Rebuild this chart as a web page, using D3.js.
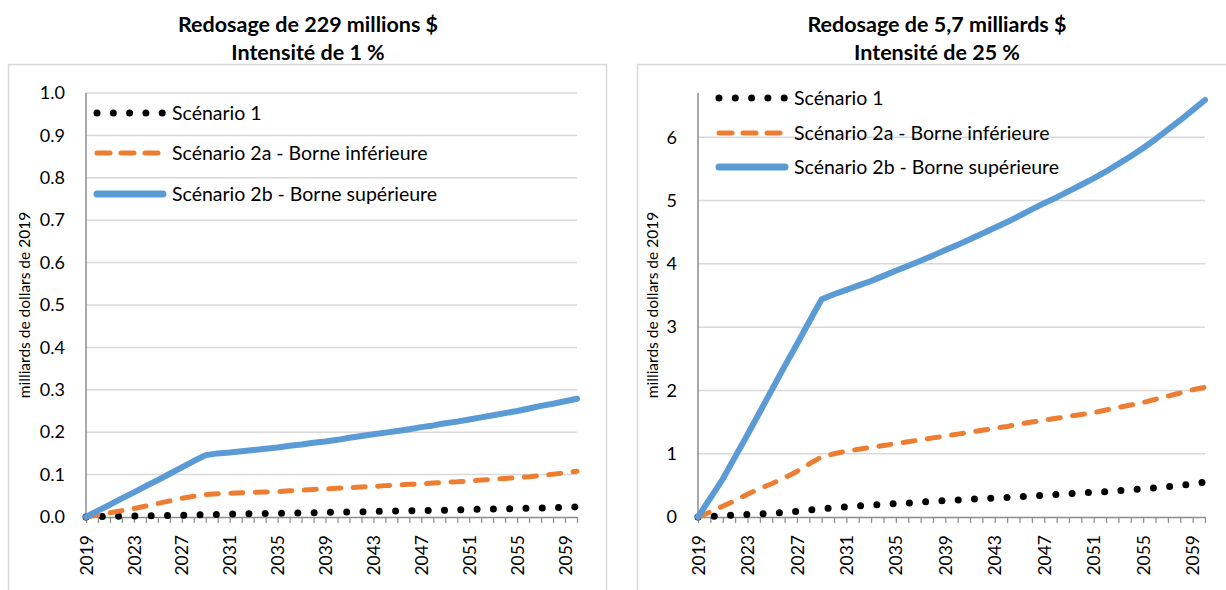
<!DOCTYPE html>
<html>
<head>
<meta charset="utf-8">
<script src="https://cdn.jsdelivr.net/npm/d3@7/dist/d3.min.js"></script>
<style>
  body { margin: 0; background: #fff; }
  text { font-family: Lato, "Open Sans", sans-serif; fill: #000; }
</style>
</head>
<body>
<div id="chart"></div>
<script>
// data (milliards de dollars de 2019)
var years = [2019, 2020, 2021, 2022, 2023, 2024, 2025, 2026, 2027, 2028,
  2029, 2030, 2031, 2032, 2033, 2034, 2035, 2036, 2037, 2038,
  2039, 2040, 2041, 2042, 2043, 2044, 2045, 2046, 2047, 2048,
  2049, 2050, 2051, 2052, 2053, 2054, 2055, 2056, 2057, 2058,
  2059, 2060];
var labelYears = [2019, 2023, 2027, 2031, 2035, 2039, 2043, 2047, 2051, 2055, 2059];
var seriesNames = ["Scénario 1", "Scénario 2a - Borne inférieure", "Scénario 2b - Borne supérieure"];

// left chart: 229 millions $, 1 %
var scen1Left = [0, 0.001, 0.001, 0.002, 0.002, 0.003, 0.003, 0.004, 0.004, 0.005,
  0.006, 0.006, 0.007, 0.007, 0.008, 0.008, 0.009, 0.009, 0.010, 0.010,
  0.011, 0.011, 0.012, 0.012, 0.013, 0.014, 0.014, 0.015, 0.015, 0.016,
  0.016, 0.017, 0.018, 0.018, 0.019, 0.019, 0.020, 0.021, 0.021, 0.022,
  0.023, 0.024];
var scen2aLeft = [0, 0.005, 0.010, 0.015, 0.020, 0.026, 0.032, 0.038, 0.044, 0.049,
  0.053, 0.055, 0.056, 0.057, 0.058, 0.059, 0.060, 0.062, 0.063, 0.065,
  0.066, 0.068, 0.069, 0.071, 0.072, 0.074, 0.075, 0.077, 0.078, 0.080,
  0.082, 0.083, 0.085, 0.087, 0.089, 0.091, 0.093, 0.095, 0.098, 0.101,
  0.104, 0.108];
var scen2bLeft = [0, 0.015, 0.029, 0.044, 0.058, 0.073, 0.087, 0.102, 0.117, 0.132,
  0.146, 0.150, 0.152, 0.155, 0.158, 0.161, 0.164, 0.168, 0.171, 0.175,
  0.178, 0.182, 0.187, 0.191, 0.195, 0.199, 0.203, 0.207, 0.212, 0.216,
  0.221, 0.225, 0.230, 0.235, 0.240, 0.245, 0.250, 0.256, 0.262, 0.267,
  0.273, 0.279];
var yTicksLeft = [0, 0.1, 0.2, 0.3, 0.4, 0.5, 0.6, 0.7, 0.8, 0.9, 1.0];

// right chart: 5,7 milliards $, 25 %
var scen1Right = [0, 0.01, 0.02, 0.03, 0.04, 0.05, 0.06, 0.07, 0.09, 0.11,
  0.13, 0.145, 0.16, 0.175, 0.19, 0.20, 0.21, 0.22, 0.235, 0.245,
  0.26, 0.27, 0.28, 0.29, 0.30, 0.31, 0.32, 0.335, 0.345, 0.355,
  0.37, 0.38, 0.39, 0.40, 0.415, 0.43, 0.45, 0.46, 0.48, 0.50,
  0.525, 0.55];
var scen2aRight = [0, 0.08, 0.17, 0.26, 0.36, 0.45, 0.53, 0.62, 0.72, 0.84,
  0.95, 1.00, 1.04, 1.07, 1.10, 1.13, 1.16, 1.19, 1.22, 1.25,
  1.28, 1.31, 1.34, 1.37, 1.40, 1.43, 1.47, 1.50, 1.53, 1.56,
  1.59, 1.62, 1.65, 1.69, 1.73, 1.77, 1.81, 1.86, 1.91, 1.96,
  2.01, 2.05];
var scen2bRight = [0, 0.30, 0.60, 0.95, 1.30, 1.66, 2.02, 2.38, 2.73, 3.09,
  3.44, 3.52, 3.59, 3.66, 3.73, 3.81, 3.89, 3.97, 4.05, 4.13,
  4.22, 4.30, 4.39, 4.48, 4.57, 4.66, 4.76, 4.86, 4.96, 5.05,
  5.15, 5.25, 5.35, 5.46, 5.58, 5.70, 5.83, 5.97, 6.12, 6.27,
  6.43, 6.59];
var yTicksRight = [0, 1, 2, 3, 4, 5, 6];

var svgWidth = 1226;
var svgHeight = 590;

var svg = d3.select("#chart")
  .append("svg")
  .attr("width", svgWidth)
  .attr("height", svgHeight);

// line styles for the three series
var styles = [
  { color: "#000000", width: 7, dash: "0 16.3", cap: "round" },
  { color: "#ED7D31", width: 5, dash: "12 12.5", cap: "round" },
  { color: "#5B9BD5", width: 6, dash: null, cap: "round" }
];

function drawPanel(p) {
  var g = svg.append("g");

  // outer frame
  g.append("rect")
    .attr("x", p.boxX + 0.5).attr("y", 64.5)
    .attr("width", p.boxW).attr("height", 560)
    .attr("fill", "none")
    .attr("stroke", "#d9d9d9")
    .attr("stroke-width", 1.5);

  // titles
  g.append("text")
    .attr("x", p.titleX).attr("y", 32)
    .attr("text-anchor", "middle")
    .style("font-weight", "bold")
    .style("font-size", "21.5px")
    .text(p.title1);
  g.append("text")
    .attr("x", p.titleX).attr("y", 60)
    .attr("text-anchor", "middle")
    .style("font-weight", "bold")
    .style("font-size", "21.5px")
    .text(p.title2);

  var x = d3.scalePoint().domain(years).range([p.x0, p.x1]);
  var y = d3.scaleLinear().domain([0, p.yMax]).range([p.yBottom, p.yTop]);

  // gridlines
  g.selectAll(".grid")
    .data(p.yTicks.filter(function(d) { return d > 0; }))
    .enter()
    .append("line")
    .attr("x1", p.x0).attr("x2", p.x1)
    .attr("y1", function(d) { return y(d); })
    .attr("y2", function(d) { return y(d); })
    .attr("stroke", "#d9d9d9")
    .attr("stroke-width", 1.5);

  // y axis
  var leftAxis = d3.axisLeft(y)
    .tickValues(p.yTicks)
    .tickFormat(p.fmt)
    .tickSize(0)
    .tickPadding(21);
  var yAxisG = g.append("g")
    .attr("transform", "translate(" + p.x0 + ",0)")
    .call(leftAxis);
  yAxisG.select(".domain").remove();
  yAxisG.selectAll("text")
    .style("font-size", "18px")
    .style("font-family", "Lato, sans-serif");
  g.append("line")
    .attr("x1", p.x0).attr("x2", p.x0)
    .attr("y1", p.yTop).attr("y2", p.yBottom)
    .attr("stroke", "#8c8c8c")
    .attr("stroke-width", 1.5);

  // x axis
  var bottomAxis = d3.axisBottom(x)
    .tickValues(years)
    .tickSize(6)
    .tickSizeOuter(0)
    .tickFormat(function(d) { return labelYears.indexOf(d) >= 0 ? d : ""; });
  var xAxisG = g.append("g")
    .attr("transform", "translate(0," + p.yBottom + ")")
    .call(bottomAxis);
  xAxisG.select(".domain").attr("stroke", "#8c8c8c").attr("stroke-width", 1.5);
  xAxisG.selectAll(".tick line").attr("stroke", "#8c8c8c").attr("stroke-width", 1.2);
  xAxisG.selectAll("text")
    .style("font-size", "17.5px")
    .style("font-family", "Lato, sans-serif")
    .attr("text-anchor", "end")
    .attr("transform", "rotate(-90)")
    .attr("x", -18)
    .attr("y", 0)
    .attr("dy", "0.35em");

  // y axis title
  g.append("text")
    .attr("transform", "translate(" + p.yTitleX + "," + ((p.yTop + p.yBottom) / 2) + ") rotate(-90)")
    .attr("text-anchor", "middle")
    .style("font-size", "15.5px")
    .text("milliards de dollars de 2019");

  // series lines
  var line = d3.line()
    .x(function(d, i) { return x(years[i]); })
    .y(function(d) { return y(d); });

  p.series.forEach(function(vals, k) {
    var s = styles[k];
    g.append("path")
      .datum(vals)
      .attr("d", line)
      .attr("fill", "none")
      .attr("stroke", s.color)
      .attr("stroke-width", s.width)
      .attr("stroke-linecap", s.cap)
      .attr("stroke-linejoin", "round")
      .attr("stroke-dasharray", s.dash);
  });

  // legend
  seriesNames.forEach(function(name, k) {
    var s = styles[k];
    var ly = p.legY[k];
    g.append("line")
      .attr("x1", p.legX0).attr("x2", p.legX1)
      .attr("y1", ly).attr("y2", ly)
      .attr("stroke", s.color)
      .attr("stroke-width", k === 2 ? 7 : s.width)
      .attr("stroke-linecap", s.cap)
      .attr("stroke-dasharray", k === 1 ? "13 11" : s.dash);
    g.append("text")
      .attr("x", p.legTextX).attr("y", ly)
      .attr("dy", "0.35em")
      .style("font-size", "19.5px")
      .text(name);
  });
}

drawPanel({
  boxX: 8, boxW: 598,
  titleX: 308,
  title1: "Redosage de 229 millions $",
  title2: "Intensité de 1 %",
  x0: 86, x1: 577, yTop: 93, yBottom: 517,
  yMax: 1.0, yTicks: yTicksLeft, fmt: d3.format(".1f"),
  yTitleX: 30,
  series: [scen1Left, scen2aLeft, scen2bLeft],
  legY: [113, 153, 194], legX0: 97, legX1: 163, legTextX: 172
});

drawPanel({
  boxX: 637, boxW: 598,
  titleX: 937,
  title1: "Redosage de 5,7 milliards $",
  title2: "Intensité de 25 %",
  x0: 698, x1: 1205, yTop: 93, yBottom: 517,
  yMax: 6.7, yTicks: yTicksRight, fmt: d3.format("d"),
  yTitleX: 658,
  series: [scen1Right, scen2aRight, scen2bRight],
  legY: [98, 133, 167], legX0: 719, legX1: 785, legTextX: 794
});
</script>
</body>
</html>
